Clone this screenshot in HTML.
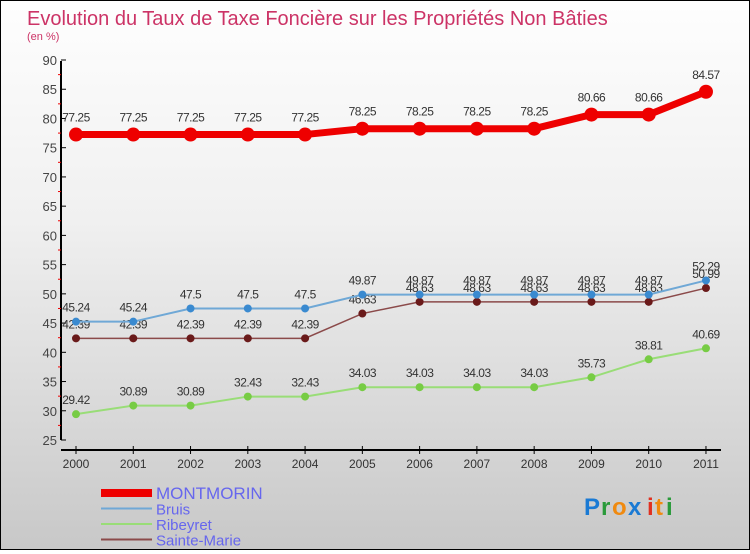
<!DOCTYPE html>
<html><head><meta charset="utf-8"><style>
html,body{margin:0;padding:0}
body{width:750px;height:550px;overflow:hidden;font-family:"Liberation Sans",sans-serif}
#wrap{position:relative;width:748px;height:548px;border:1px solid #000;background:linear-gradient(#fefefe,#f0f0f0 40%,#c8c8c8)}
</style></head><body>
<div id="wrap">
<svg width="748" height="548">
<text x="26" y="24" font-size="20" fill="#cc3366">Evolution du Taux de Taxe Foncière sur les Propriétés Non Bâties</text>
<text x="26" y="39" font-size="11" fill="#cc3366">(en %)</text>
<g id="axes"></g>
<g id="series"></g>
<g id="legend" font-size="15" fill="#6666ee"></g>
<g font-size="24" font-weight="bold" font-family="'Liberation Sans',sans-serif">
<text x="583" y="514" fill="#1a7ad4">P</text><text x="600" y="514" fill="#2a9a3a">r</text><text x="611" y="514" fill="#f08a10">o</text><text x="627" y="514" fill="#1a7ad4">x</text><text x="646" y="514" fill="#e03020">i</text><text x="654" y="514" fill="#f08a10">t</text><text x="665" y="514" fill="#2a9a3a">i</text>
</g>
</svg></div>
<script>
const years=["2000","2001","2002","2003","2004","2005","2006","2007","2008","2009","2010","2011"];
const yTicks=[25,30,35,40,45,50,55,60,65,70,75,80,85,90];
const montmorin=[77.25,77.25,77.25,77.25,77.25,78.25,78.25,78.25,78.25,80.66,80.66,84.57];
const bruis=[45.24,45.24,47.5,47.5,47.5,49.87,49.87,49.87,49.87,49.87,49.87,52.29];
const ribeyret=[29.42,30.89,30.89,32.43,32.43,34.03,34.03,34.03,34.03,35.73,38.81,40.69];
const sainteMarie=[42.39,42.39,42.39,42.39,42.39,46.63,48.63,48.63,48.63,48.63,48.63,50.99];
const NS="http://www.w3.org/2000/svg";
const X=i=>75+i*57.27, Y=v=>439-(v-25)*5.846;
function mk(t,a,p){const e=document.createElementNS(NS,t);for(const k in a)e.setAttribute(k,a[k]);p.appendChild(e);return e;}
const ax=document.getElementById('axes');
let l=mk('line',{x1:60,y1:60,x2:60,y2:439,stroke:'#000','stroke-width':2},ax);

l=mk('line',{x1:60,y1:449,x2:720,y2:449,stroke:'#000','stroke-width':2},ax);

yTicks.forEach(v=>{const y=Y(v);
 mk('line',{x1:60,y1:y,x2:65,y2:y,stroke:'#000'},ax);
 if(v<90)mk('line',{x1:57,y1:Y(v+2.5),x2:60,y2:Y(v+2.5),stroke:'#e00'},ax);
 const t=mk('text',{x:56,y:y+5,'text-anchor':'end','font-size':13,fill:'#444'},ax);t.textContent=v;
 });
years.forEach((yr,i)=>{const x=X(i);mk('line',{x1:x,y1:445,x2:x,y2:453,stroke:'#000'},ax);
 const t=mk('text',{x:x,y:467,'text-anchor':'middle','font-size':12,fill:'#333'},ax);t.textContent=yr;
 });
const sg=document.getElementById('series');
const series=[
 {n:'sainte-marie',d:sainteMarie,c:'#8b4a4a',w:1.5,r:4,f:'#6a1a1a'},
 {n:'ribeyret',d:ribeyret,c:'#99dd77',w:2,r:4,f:'#77cc44'},
 {n:'bruis',d:bruis,c:'#6fa8d6',w:2,r:4,f:'#3a8ad0'},
 {n:'montmorin',d:montmorin,c:'#ee0000',w:7,r:7,f:'#ee0000'}];
series.forEach(s=>{const g=mk('g',{},sg);
 
 mk('polyline',{points:s.d.map((v,i)=>X(i)+','+Y(v)).join(' '),fill:'none',stroke:s.c,'stroke-width':s.w},g);
 s.d.forEach((v,i)=>{const c=mk('circle',{cx:X(i),cy:Y(v),r:s.r,fill:s.f},g);
  
  const t=mk('text',{x:X(i),y:Y(v)-(s.r+6),'text-anchor':'middle','font-size':12,fill:'#333','letter-spacing':'-0.5'},g);
  t.textContent=String(v);});});
const lg=document.getElementById('legend');
[['MONTMORIN','#ee0000',8],['Bruis','#6fa8d6',2],['Ribeyret','#99dd77',2],['Sainte-Marie','#8b4a4a',2]].forEach((e,i)=>{
 const y=492+i*15.5;const g=mk('g',{},lg);
 
 mk('line',{x1:100,y1:y,x2:151,y2:y,stroke:e[1],'stroke-width':e[2]},g);
 const t=mk('text',{x:155,y:y+6,'font-size':i==0?17:15,fill:'#6666ee'},g);t.textContent=e[0];});
</script>
</body></html>
